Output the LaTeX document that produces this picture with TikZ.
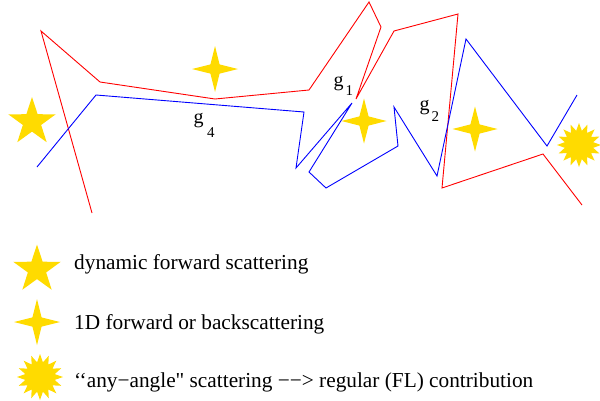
\documentclass[tikz,border=0pt]{standalone}
\usepackage{fontspec}
\setmainfont{Liberation Serif}
\newfontfamily\plainserif{Liberation Serif}[Ligatures=TeXOff]
\definecolor{gold}{RGB}{255,219,0}
\newcommand{\spikystar}[6]{% x y N R r startangle
  \fill[gold,shift={(#1,#2)}] (#6:#4pt) \foreach \k in {1,...,#3} { -- ({#6+180/#3*(2*\k-1)}:#5pt) -- ({#6+360/#3*\k}:#4pt) } -- cycle;}
\begin{document}
\begin{tikzpicture}[x=1pt,y=-1pt,
  redline/.style={draw=red,line width=0.9pt},
  blueline/.style={draw=blue,line width=0.9pt},
  lbl/.style={inner sep=0pt,anchor=base west,font=\fontsize{21.3}{25}\selectfont},
  gl/.style={inner sep=0pt,anchor=base west,font=\fontsize{20}{24}\selectfont},
  gsub/.style={inner sep=0pt,anchor=base west,font=\fontsize{15}{18}\selectfont}]
\useasboundingbox (0,0) rectangle (600,400);
% stars in the scene
\spikystar{32}{122}{5}{25}{9.6}{90}
\spikystar{215}{69}{4}{23}{6.5}{90}
\spikystar{364}{121}{4}{22.5}{6.5}{90}
\spikystar{475}{129}{4}{22.5}{6.5}{90}
\spikystar{579}{145}{16}{22}{14.5}{90}
% paths
\draw[redline] (92,213) -- (41,31) -- (100,82) -- (215,99) -- (309,90) -- (369,2) -- (381,27) -- (356,99) -- (394,31) -- (458,14) -- (442,188) -- (543,154) -- (582,205);
\draw[blueline] (37,167) -- (96,95) -- (304,112) -- (296,168) -- (352,103) -- (309,172) -- (326,188) -- (398,146) -- (394,107) -- (437,176) -- (466,39) -- (547,146) -- (577,95);
% labels
\node[gl] (g4) at (193.4,123.6) {g};
\node[gsub] (s4) at (207,137) {4};
\node[gl] (g1) at (333.4,86.6) {g};
\node[gsub] (s1) at (345.5,95) {1};
\node[gl] (g2) at (419.4,110.6) {g};
\node[gsub] (s2) at (431.5,121) {2};
% legend
\spikystar{37}{269.5}{5}{25}{9.6}{90}
\spikystar{37}{322}{4}{23}{6.5}{90}
\spikystar{40}{377}{16}{23}{15}{90}
\node[lbl] (l1) at (74,269) {dynamic forward scattering};
\node[lbl] (l2) at (74,329) {1D forward or backscattering};
\node[lbl] (l3) at (74,387) {\plainserif ‘‘any−angle" scattering −−> regular (FL) contribution};
\end{tikzpicture}
\end{document}
